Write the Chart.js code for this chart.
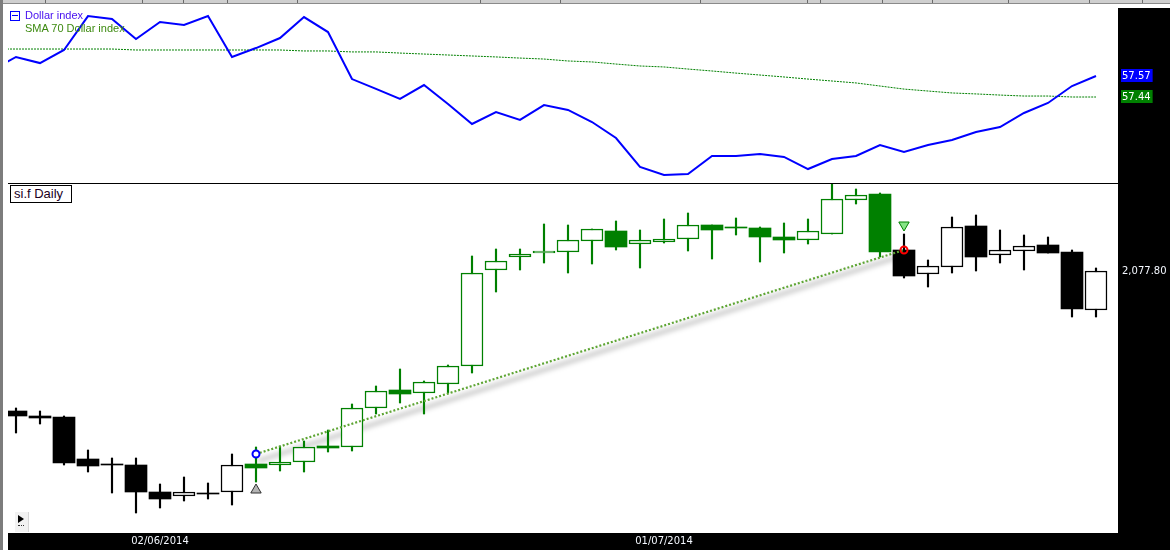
<!DOCTYPE html>
<html><head><meta charset="utf-8">
<script src="https://cdn.jsdelivr.net/npm/chart.js@4.4.0/dist/chart.umd.min.js"></script>
<style>
html,body{margin:0;padding:0;}
body{width:1170px;height:550px;overflow:hidden;background:#fff;position:relative;font-family:"Liberation Sans",Arial,sans-serif;}
#topWrap{position:absolute;left:0;top:8px;width:1170px;height:175px;}
#botWrap{position:absolute;left:0;top:183px;width:1170px;height:367px;}
canvas{display:block;}
#toolbar{position:absolute;left:0;top:0;width:1170px;height:3px;background:#cfcfcf;border-bottom:1px solid #8a8a8a;z-index:5;}
.sep{position:absolute;top:0;width:1px;height:3px;background:#6a6a6a;}
#leftStrip{position:absolute;left:0;top:0;width:3px;height:550px;background:#7c7c7c;z-index:6;}
#lgIcon{position:absolute;left:10px;top:11px;width:8px;height:8px;border:1px solid #0000ff;z-index:4;background:#fff;}
#lgIcon:after{content:"";position:absolute;left:1px;top:3px;width:6px;height:1px;background:#0000ff;}
.lgText{position:absolute;left:25px;font-size:11px;line-height:13px;z-index:4;white-space:nowrap;}
#symBox{position:absolute;left:10px;top:185px;width:60px;height:16px;border:1px solid #000;background:#fff;z-index:4;font-size:13px;line-height:16px;color:#1c0022;padding-left:0;}
#symBox span{position:absolute;left:3px;top:0;}
#playBtn{position:absolute;left:15px;top:512px;width:13px;height:20px;background:#f2f2f2;border-right:1px solid #d6d6d6;z-index:4;}
#playBtn .tri{position:absolute;left:3px;top:3px;width:0;height:0;border-left:6px solid #000;border-top:4px solid transparent;border-bottom:4px solid transparent;}
#playBtn .dots{position:absolute;left:3px;top:13px;width:6px;height:0;border-top:1px dotted #333;}
</style>
</head><body>
<div id="toolbar">
  <div class="sep" style="left:45px"></div><div class="sep" style="left:142px"></div><div class="sep" style="left:183px"></div>
  <div class="sep" style="left:227px"></div><div class="sep" style="left:297px"></div><div class="sep" style="left:480px"></div>
  <div class="sep" style="left:560px"></div><div class="sep" style="left:700px"></div><div class="sep" style="left:807px"></div>
  <div class="sep" style="left:820px"></div><div class="sep" style="left:882px"></div><div class="sep" style="left:932px"></div>
  <div class="sep" style="left:1008px"></div><div class="sep" style="left:1089px"></div><div class="sep" style="left:1142px"></div>
</div>
<div id="leftStrip"></div>
<div id="topWrap"><canvas id="topChart" width="1170" height="175"></canvas></div>
<div id="botWrap"><canvas id="botChart" width="1170" height="367"></canvas></div>
<div id="lgIcon"></div>
<div class="lgText" style="top:9px;color:#4a14f0;">Dollar index</div>
<div class="lgText" style="top:22px;color:#3d8a10;">SMA 70 Dollar index</div>
<div id="symBox"><span>si.f Daily</span></div>
<div id="playBtn"><div class="tri"></div><div class="dots"></div></div>
<script>
// ---------------- DATA ----------------
// Daily candles (index 0..45)
const candleOpen  = [2007.8,2005.3,2004.8,1983.8,1981.3,1980.8,1967.3,1965.3,1966.8,1967.3,1981.3,1980.8,1982.3,1990.3,1989.8,2009.3,2018.3,2016.8,2021.3,2030.3,2078.3,2084.8,2086.8,2087.3,2092.8,2097.8,2091.3,2092.3,2093.8,2100.8,2099.8,2099.3,2094.8,2093.3,2096.3,2113.3,2116.3,2088.3,2076.3,2079.8,2100.3,2085.8,2087.8,2090.8,2087.3,2058.3];
const candleHigh  = [2009.3,2007.8,2005.3,1988.3,1984.3,1984.3,1971.3,1974.8,1971.8,1986.3,1989.8,1990.3,1992.8,1998.3,2011.3,2020.3,2028.8,2022.8,2030.8,2085.3,2088.8,2088.8,2101.3,2100.8,2098.8,2102.8,2098.3,2103.8,2106.8,2100.8,2104.3,2099.8,2101.8,2103.8,2121.8,2118.8,2116.8,2096.3,2083.3,2104.8,2105.8,2098.3,2095.8,2094.8,2088.3,2079.3];
const candleLow   = [1996.8,2001.3,1980.8,1977.3,1966.8,1956.8,1959.3,1962.8,1963.8,1960.8,1972.3,1977.8,1977.3,1987.3,1987.8,2006.3,2011.8,2006.3,2016.8,2026.8,2067.3,2078.3,2081.8,2076.8,2081.3,2088.3,2079.3,2091.8,2087.8,2083.8,2095.8,2082.3,2086.8,2091.3,2096.3,2111.3,2084.8,2074.3,2069.8,2076.8,2077.8,2081.8,2078.3,2086.8,2054.8,2054.8];
const candleClose = [2005.3,2004.3,1981.8,1980.3,1980.8,1967.3,1963.8,1967.3,1966.3,1980.8,1979.3,1982.3,1989.8,1989.3,2009.3,2017.8,2016.3,2022.3,2030.3,2076.8,2082.8,2086.3,2087.8,2093.3,2098.8,2089.8,2093.3,2093.8,2100.8,2098.3,2099.3,2094.8,2093.3,2097.8,2113.8,2115.8,2087.3,2075.3,2080.3,2099.8,2084.8,2088.3,2090.3,2086.8,2058.8,2077.8];

// Dollar index and its SMA 70 (first value is the bar before the visible range, index -1)
const dxFirstIndex = -1;
const dollarIndex = [57.607,57.688,57.650,57.731,57.941,57.923,57.799,57.904,57.886,57.941,57.688,57.743,57.805,57.935,57.842,57.551,57.490,57.428,57.514,57.397,57.273,57.347,57.298,57.390,57.360,57.285,57.186,57.007,56.957,56.963,57.075,57.075,57.087,57.069,56.994,57.056,57.075,57.143,57.100,57.143,57.174,57.223,57.254,57.341,57.403,57.508,57.570];
const sma70 = [57.737,57.737,57.737,57.737,57.737,57.737,57.731,57.731,57.731,57.731,57.731,57.731,57.731,57.725,57.725,57.719,57.719,57.712,57.706,57.700,57.694,57.688,57.681,57.675,57.663,57.657,57.644,57.632,57.626,57.613,57.601,57.588,57.576,57.564,57.551,57.539,57.527,57.508,57.489,57.477,57.465,57.459,57.452,57.446,57.446,57.440,57.440];

// Axis tick labels
const dateTickIdx = [6, 27];
const dateTickLabels = ['02/06/2014', '01/07/2014'];
const dxTickValues = [57.57, 57.44];
const dxTickLabels = ['57.57', '57.44'];
const priceTickValues = [2077.8];
const priceTickLabels = ['2,077.80'];

// Trade (long) from entry to exit
const tradeIdx = [10, 37];
const tradePrice = [1986.3, 2088.3];
const buySignal = {idx: 10, price: 1968.3};
const sellSignal = {idx: 37, price: 2100.8};
const tradeFirstBar = 10, tradeLastBar = 36;

// ---------------- STYLE ----------------
const GREEN = '#008000', BLACK = '#000000', WHITE = '#ffffff';
const X_MIN = -1/3, X_MAX = 45 + 11/12;
const axisFont = {family: 'DejaVu Sans', size: 10};

function isUp(i){ return candleClose[i] >= candleOpen[i]; }
function candleColor(i){ return (i >= tradeFirstBar && i <= tradeLastBar) ? GREEN : BLACK; }
function noPad(s){ s.paddingTop = 0; s.paddingBottom = 0; s.paddingLeft = 0; s.paddingRight = 0; }

const bandPlugin = {
  id: 'bands',
  beforeDraw(chart, args, opts){
    const {ctx, chartArea, width, height} = chart;
    ctx.save();
    ctx.fillStyle = '#000';
    ctx.fillRect(chartArea.right, 0, width - chartArea.right, height);
    if (opts.bottom) ctx.fillRect(chartArea.left, chartArea.bottom, width - chartArea.left, height - chartArea.bottom);
    ctx.restore();
  },
  afterDraw(chart, args, opts){
    if (!opts.topLine) return;
    const {ctx, chartArea} = chart;
    ctx.save();
    ctx.fillStyle = '#000';
    ctx.fillRect(chartArea.left, chartArea.top, chartArea.right - chartArea.left, 1);
    ctx.restore();
  }
};

const shadowPlugin = {
  id: 'tradeShadow',
  beforeDatasetsDraw(chart){
    const {ctx} = chart;
    const xs = chart.scales.x, ys = chart.scales.y;
    const x0 = xs.getPixelForValue(tradeIdx[0]), y0 = ys.getPixelForValue(tradePrice[0]);
    const x1 = xs.getPixelForValue(tradeIdx[1]), y1 = ys.getPixelForValue(tradePrice[1]);
    ctx.save();
    ctx.filter = 'blur(2.5px)';
    ctx.strokeStyle = 'rgba(0,0,0,0.22)';
    ctx.lineWidth = 4;
    ctx.beginPath();
    ctx.moveTo(x0 + 2, y0 + 7);
    ctx.lineTo(x1 - 6, y1 + 7);
    ctx.stroke();
    ctx.restore();
  }
};

Chart.defaults.font.family = 'DejaVu Sans';

// ---------------- TOP PANEL ----------------
new Chart(document.getElementById('topChart'), {
  type: 'line',
  data: {
    datasets: [
      {
        label: 'Dollar index',
        data: dollarIndex.map((v, k) => ({x: k + dxFirstIndex, y: v})),
        borderColor: '#0000ff', borderWidth: 2, pointRadius: 0, tension: 0, order: 0
      },
      {
        label: 'SMA 70 Dollar index',
        data: sma70.map((v, k) => ({x: k + dxFirstIndex, y: v})),
        borderColor: GREEN, borderWidth: 1, borderDash: [2, 1], pointRadius: 0, tension: 0, order: 1
      }
    ]
  },
  options: {
    responsive: false, animation: false, events: [],
    layout: {autoPadding: false, padding: {left: 8, right: 0, top: 0, bottom: 0}},
    plugins: {legend: {display: false}, tooltip: {enabled: false}, bands: {bottom: false, topLine: false}},
    scales: {
      x: {type: 'linear', min: X_MIN, max: X_MAX, display: false},
      y: {
        type: 'linear', position: 'right', min: 56.9076, max: 57.991,
        grid: {display: false, drawTicks: false}, border: {display: false},
        afterBuildTicks: s => { s.ticks = dxTickValues.map(v => ({value: v})); },
        afterFit: s => { s.width = 52; noPad(s); },
        ticks: {
          padding: 4, color: WHITE, font: axisFont, autoSkip: false,
          callback: (v, i) => dxTickLabels[i],
          showLabelBackdrop: true,
          backdropColor: c => (c.index === 0 ? '#0000ff' : GREEN),
          backdropPadding: {top: 1, bottom: 0, left: 1, right: 2}
        }
      }
    }
  },
  plugins: [bandPlugin]
});

// ---------------- PRICE PANEL ----------------
const bodyData = candleOpen.map((o, i) => ({x: i, y: [o, candleClose[i]]}));
const wickData = candleLow.map((l, i) => ({x: i, y: [l, candleHigh[i]]}));

new Chart(document.getElementById('botChart'), {
  type: 'bar',
  data: {
    datasets: [
      {
        type: 'line', label: 'entry', data: [{x: tradeIdx[0], y: tradePrice[0]}],
        showLine: false, pointStyle: 'circle', pointRadius: 3.5, pointBorderWidth: 2,
        pointBorderColor: '#0000ff', pointBackgroundColor: '#ffffff', order: 0
      },
      {
        type: 'line', label: 'exit', data: [{x: tradeIdx[1], y: tradePrice[1]}],
        showLine: false, pointStyle: 'circle', pointRadius: 3.5, pointBorderWidth: 2,
        pointBorderColor: '#ff0000', pointBackgroundColor: 'rgba(255,255,255,0)', order: 0
      },
      {
        type: 'line', label: 'buy', data: [{x: buySignal.idx, y: buySignal.price}],
        showLine: false, pointStyle: 'triangle', pointRadius: 6, pointBorderWidth: 1,
        pointBorderColor: '#303030', pointBackgroundColor: '#b4b4b4', order: 0
      },
      {
        type: 'line', label: 'sell', data: [{x: sellSignal.idx, y: sellSignal.price}],
        showLine: false, pointStyle: 'triangle', pointRotation: 180, pointRadius: 6, pointBorderWidth: 1,
        pointBorderColor: GREEN, pointBackgroundColor: '#86e486', order: 0
      },
      {
        type: 'line', label: 'trade', data: tradeIdx.map((x, k) => ({x, y: tradePrice[k]})),
        borderColor: '#5ea534', borderWidth: 2.2, borderDash: [2, 2], pointRadius: 0, tension: 0, order: 1
      },
      {
        label: 'body', data: bodyData, grouped: false, barThickness: 22, borderSkipped: false,
        backgroundColor: c => (isUp(c.dataIndex) ? WHITE : candleColor(c.dataIndex)),
        borderColor: c => candleColor(c.dataIndex),
        borderWidth: c => (isUp(c.dataIndex) ? 1.5 : 0),
        order: 2
      },
      {
        label: 'wick', data: wickData, grouped: false, barThickness: 1.5, borderSkipped: false,
        backgroundColor: c => candleColor(c.dataIndex), borderWidth: 0, order: 3
      }
    ]
  },
  options: {
    responsive: false, animation: false, events: [],
    layout: {autoPadding: false, padding: {left: 8, right: 0, top: 0, bottom: 0}},
    plugins: {legend: {display: false}, tooltip: {enabled: false}, bands: {bottom: true, topLine: true}},
    scales: {
      x: {
        type: 'linear', min: X_MIN, max: X_MAX, offset: false, position: 'bottom',
        grid: {display: false, drawTicks: false, offset: false}, border: {display: false},
        afterBuildTicks: s => { s.ticks = dateTickIdx.map(v => ({value: v})); },
        afterFit: s => { s.height = 17; noPad(s); },
        ticks: {padding: 2, color: '#f4f8ff', font: axisFont, autoSkip: false, maxRotation: 0, minRotation: 0,
                callback: (v, i) => dateTickLabels[i]}
      },
      y: {
        type: 'linear', position: 'right', min: 1946.8, max: 2121.8,
        grid: {display: false, drawTicks: false}, border: {display: false},
        afterBuildTicks: s => { s.ticks = priceTickValues.map(v => ({value: v})); },
        afterFit: s => { s.width = 52; noPad(s); },
        ticks: {padding: 4, color: '#f4f8ff', font: axisFont, autoSkip: false,
                callback: (v, i) => priceTickLabels[i]}
      }
    }
  },
  plugins: [bandPlugin, shadowPlugin]
});
</script>
</body></html>
